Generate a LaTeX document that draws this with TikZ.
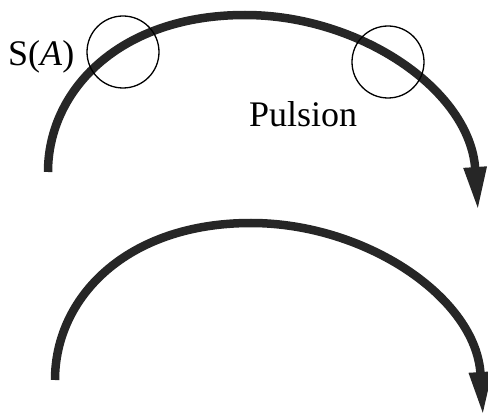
\documentclass[tikz,border=0pt]{standalone}
\usepackage{fontspec}
\setmainfont{Liberation Serif}
\usetikzlibrary{arrows.meta}
\begin{document}
\begin{tikzpicture}[x=1pt,y=-1pt,
  arcline/.style={line width=8.5pt, draw=black!85, -{Triangle[length=44pt,width=21pt]}},
  ring/.style={circle, draw=black, line width=1.3pt, minimum size=72pt, inner sep=0pt},
  lbl/.style={font=\fontsize{36}{36}\selectfont, inner sep=0pt, anchor=base west}]
\useasboundingbox (0,0) rectangle (488,417);
% top arc
\coordinate (t0) at (48,172);
\coordinate (t1) at (245,15);
\coordinate (t2) at (478,211);
\draw[arcline] (t0) .. controls (48,90) and (120,15) .. (t1)
  .. controls (360,15) and (470,90) .. (t2);
% bottom arc
\coordinate (b0) at (55,380);
\coordinate (b1) at (251,223);
\coordinate (b2) at (483,416);
\draw[arcline] (b0) .. controls (55,298) and (126,223) .. (b1)
  .. controls (366,223) and (476,298) .. (b2);
% circles
\node[ring] (cl) at (123,52) {};
\node[ring] (cr) at (388,62) {};
% labels
\node[lbl] (sa) at (8,66) {S(\textit{A})};
\node[lbl] (pu) at (249,127) {Pulsion};
\end{tikzpicture}
\end{document}
